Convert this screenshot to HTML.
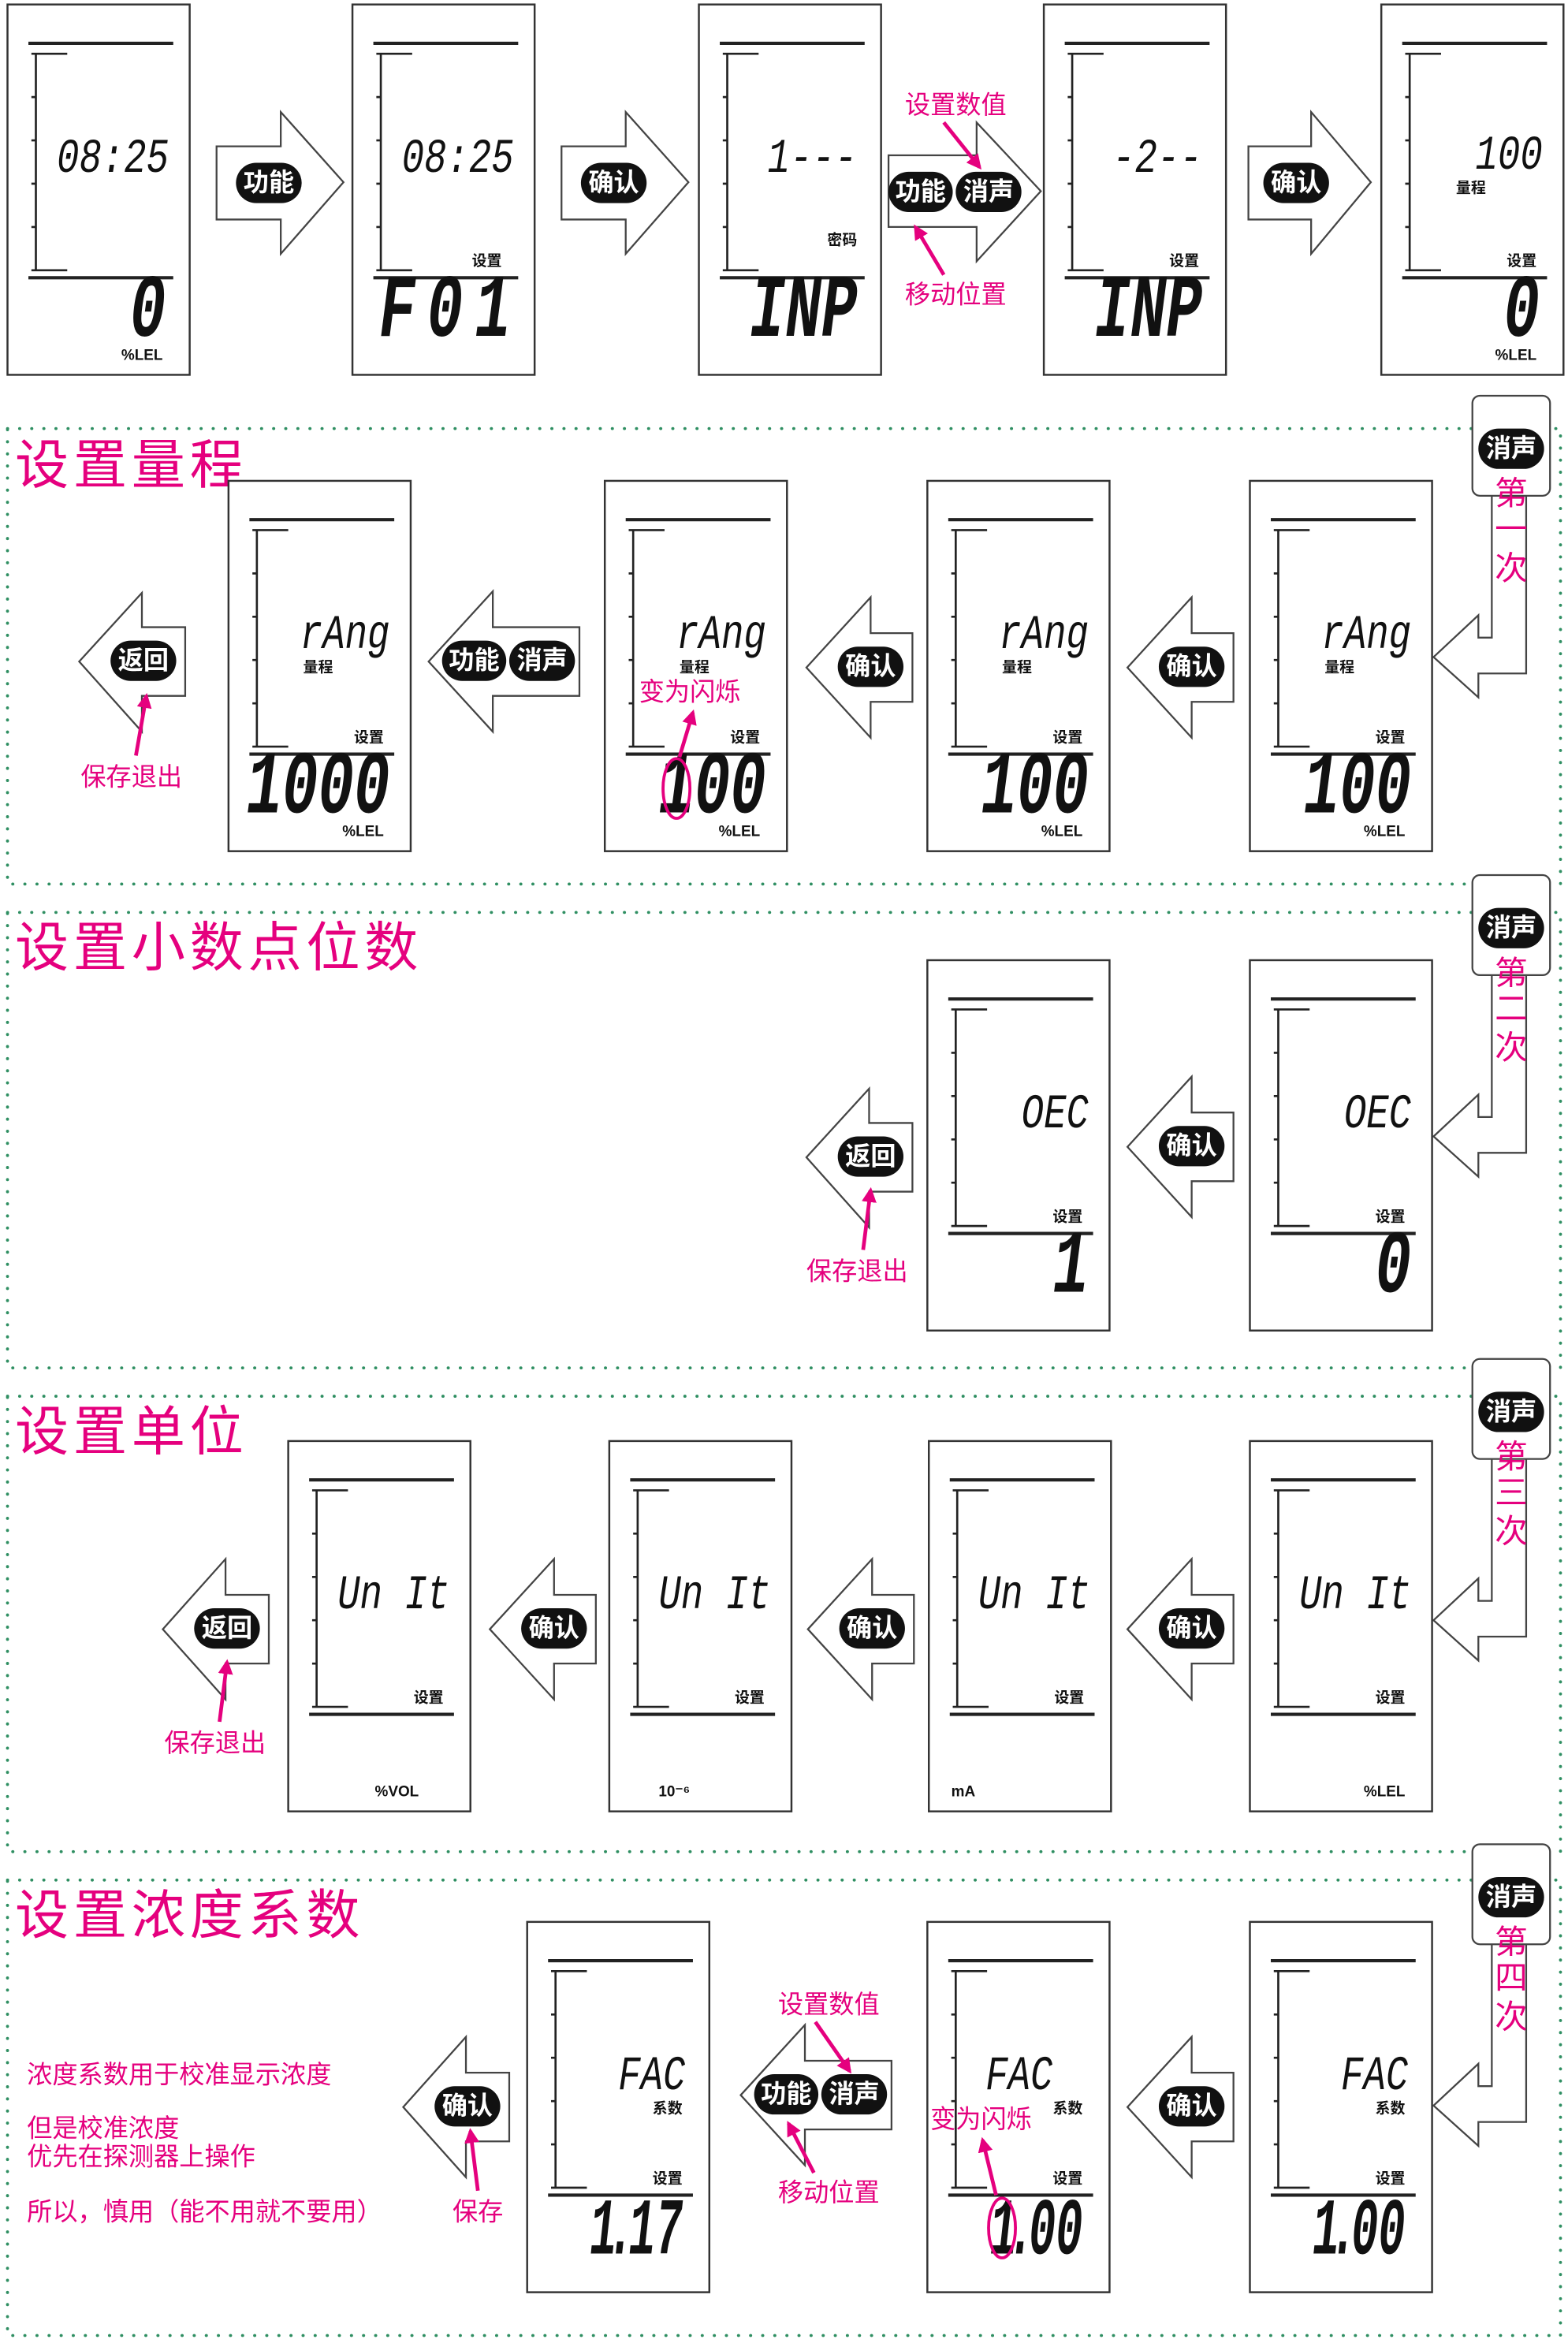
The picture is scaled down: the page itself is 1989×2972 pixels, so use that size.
<!DOCTYPE html>
<html><head><meta charset="utf-8"><style>
html,body{margin:0;padding:0;background:#fff}
svg{display:block}
.m{font-family:"Liberation Mono",monospace;font-style:italic;font-size:25px;fill:#111}
.b{font-family:"Liberation Mono",monospace;font-style:italic;font-size:40px;font-weight:bold;fill:#111}
.b2{font-family:"Liberation Mono",monospace;font-style:italic;font-size:30px;font-weight:bold;fill:#111}
.s{font-family:"Liberation Sans","Noto Sans CJK SC",sans-serif;font-size:10px;font-weight:bold;fill:#111}
.w{font-family:"Liberation Sans","Noto Sans CJK SC",sans-serif;font-size:17px;font-weight:bold;fill:#fff}
.p{font-family:"Liberation Sans","Noto Sans CJK SC",sans-serif;font-size:17px;fill:#e5007e}
.t{font-family:"Liberation Sans","Noto Sans CJK SC",sans-serif;font-size:36px;fill:#e5007e;letter-spacing:3px}
.k{font-family:"Liberation Sans","Noto Sans CJK SC",sans-serif;font-size:22px;fill:#e5007e}
.ar{fill:#fff;stroke:#444;stroke-width:1.2}
.pk{stroke:#e5007e;stroke-width:2.5;fill:none}
.dot{fill:none;stroke:#2f8f62;stroke-width:2;stroke-dasharray:0.1 8;stroke-linecap:round}
</style></head><body>
<svg width="1989" height="2972" viewBox="0 0 1050 1569" xmlns="http://www.w3.org/2000/svg">
<defs>
<g id="fr"><rect x="0" y="0" width="122" height="248" fill="#fff" stroke="#333" stroke-width="1.3"/><path d="M14 26H111M14 183H111" stroke="#222" stroke-width="2.2"/><path d="M19 33V178M16 33H40M16 178H40M16 62H19M16 91H19M16 120H19M16 149H19" stroke="#222" stroke-width="1.4" fill="none"/></g>
<marker id="ah" viewBox="0 0 10 10" refX="8" refY="5" markerWidth="4" markerHeight="4" orient="auto"><path d="M0 0L10 5L0 10z" fill="#e5007e"/></marker>
</defs>

<rect class="dot" x="5" y="287" width="1040" height="305"/>
<rect class="dot" x="5" y="611" width="1040" height="305"/>
<rect class="dot" x="5" y="935" width="1040" height="305"/>
<rect class="dot" x="5" y="1259" width="1040" height="305"/>

<!-- TOP ROW -->
<g transform="translate(5,3)"><use href="#fr"/><text class="m" text-anchor="end" transform="translate(108,112) scale(1,1.3)">08:25</text><text class="b" text-anchor="end" transform="translate(106,222) scale(1,1.5)">0</text><text class="s" x="104" y="238" text-anchor="end">%LEL</text></g>
<g transform="translate(236,3)"><use href="#fr"/><text class="m" text-anchor="end" transform="translate(108,112) scale(1,1.3)">08:25</text><text class="s" x="100" y="175" text-anchor="end">设置</text><text class="b" text-anchor="end" letter-spacing="8" transform="translate(114,222) scale(1,1.5)">F01</text></g>
<g transform="translate(468,3)"><use href="#fr"/><text class="m" text-anchor="end" transform="translate(106,112) scale(1,1.3)">1---</text><text class="s" x="106" y="161" text-anchor="end">密码</text><text class="b" text-anchor="end" transform="translate(106,222) scale(1,1.5)">INP</text></g>
<g transform="translate(699,3)"><use href="#fr"/><text class="m" text-anchor="end" transform="translate(106,112) scale(1,1.3)">-2--</text><text class="s" x="104" y="175" text-anchor="end">设置</text><text class="b" text-anchor="end" transform="translate(106,222) scale(1,1.5)">INP</text></g>
<g transform="translate(925,3)"><use href="#fr"/><text class="m" text-anchor="end" transform="translate(108,110) scale(1,1.3)">100</text><text class="s" x="50" y="126">量程</text><text class="s" x="104" y="175" text-anchor="end">设置</text><text class="b" text-anchor="end" transform="translate(106,222) scale(1,1.5)">0</text><text class="s" x="104" y="238" text-anchor="end">%LEL</text></g>

<polygon class="ar" points="145,98 188,98 188,75 230,122 188,170 188,147 145,147"/>
<rect x="158" y="109" width="44" height="27" rx="13.5" fill="#111"/><text class="w" x="180" y="128" text-anchor="middle">功能</text>
<polygon class="ar" points="376,98 419,98 419,75 461,122 419,170 419,147 376,147"/>
<rect x="389" y="109" width="44" height="27" rx="13.5" fill="#111"/><text class="w" x="411" y="128" text-anchor="middle">确认</text>
<polygon class="ar" points="595,104 654,104 654,82 697,128 654,175 654,152 595,152"/>
<rect x="595" y="115" width="43" height="27" rx="13.5" fill="#111"/><text class="w" x="616.5" y="134" text-anchor="middle">功能</text>
<rect x="640" y="115" width="44" height="27" rx="13.5" fill="#111"/><text class="w" x="662" y="134" text-anchor="middle">消声</text>
<text class="p" x="606" y="76">设置数值</text><line class="pk" x1="632" y1="82" x2="656" y2="112" marker-end="url(#ah)"/>
<text class="p" x="606" y="203">移动位置</text><line class="pk" x1="632" y1="184" x2="613" y2="152" marker-end="url(#ah)"/>
<polygon class="ar" points="836,98 878,98 878,75 918,122 878,170 878,147 836,147"/>
<rect x="846" y="109" width="44" height="27" rx="13.5" fill="#111"/><text class="w" x="868" y="128" text-anchor="middle">确认</text>

<!-- entry boxes -->
<g id="eb1"><polygon class="ar" points="999,330 999,427 990,427 990,412 960,440 990,467 990,451 1022,451 1022,330"/><rect x="986" y="265" width="52" height="67" rx="5" fill="#fff" stroke="#444" stroke-width="1.2"/><rect x="990" y="287" width="44" height="27" rx="13.5" fill="#111"/><text class="w" x="1012" y="306" text-anchor="middle">消声</text></g>
<text class="k" x="1012" y="338" text-anchor="middle">第</text><text class="k" x="1012" y="362" text-anchor="middle">一</text><text class="k" x="1012" y="388" text-anchor="middle">次</text>
<use href="#eb1" y="321"/><text class="k" x="1012" y="659" text-anchor="middle">第</text><text class="k" x="1012" y="683" text-anchor="middle">二</text><text class="k" x="1012" y="709" text-anchor="middle">次</text>
<use href="#eb1" y="645"/><text class="k" x="1012" y="983" text-anchor="middle">第</text><text class="k" x="1012" y="1007" text-anchor="middle">三</text><text class="k" x="1012" y="1033" text-anchor="middle">次</text>
<use href="#eb1" y="970"/><text class="k" x="1012" y="1308" text-anchor="middle">第</text><text class="k" x="1012" y="1332" text-anchor="middle">四</text><text class="k" x="1012" y="1358" text-anchor="middle">次</text>

<!-- SECTION 1 -->
<text class="t" x="10" y="324">设置量程</text>
<g transform="translate(153,322)"><use href="#fr"/><text class="m" text-anchor="end" transform="translate(108,112) scale(1,1.3)">rAng</text><text class="s" x="50" y="128">量程</text><text class="s" x="104" y="175" text-anchor="end">设置</text><text class="b" text-anchor="end" transform="translate(108,222) scale(1,1.5)">1000</text><text class="s" x="104" y="238" text-anchor="end">%LEL</text></g>
<g transform="translate(405,322)"><use href="#fr"/><text class="m" text-anchor="end" transform="translate(108,112) scale(1,1.3)">rAng</text><text class="s" x="50" y="128">量程</text><text class="s" x="104" y="175" text-anchor="end">设置</text><text class="b" text-anchor="end" transform="translate(108,222) scale(1,1.5)">100</text><text class="s" x="104" y="238" text-anchor="end">%LEL</text></g>
<g transform="translate(621,322)"><use href="#fr"/><text class="m" text-anchor="end" transform="translate(108,112) scale(1,1.3)">rAng</text><text class="s" x="50" y="128">量程</text><text class="s" x="104" y="175" text-anchor="end">设置</text><text class="b" text-anchor="end" transform="translate(108,222) scale(1,1.5)">100</text><text class="s" x="104" y="238" text-anchor="end">%LEL</text></g>
<g transform="translate(837,322)"><use href="#fr"/><text class="m" text-anchor="end" transform="translate(108,112) scale(1,1.3)">rAng</text><text class="s" x="50" y="128">量程</text><text class="s" x="104" y="175" text-anchor="end">设置</text><text class="b" text-anchor="end" transform="translate(108,222) scale(1,1.5)">100</text><text class="s" x="104" y="238" text-anchor="end">%LEL</text></g>
<ellipse cx="453" cy="528" rx="9" ry="20" fill="none" stroke="#e5007e" stroke-width="2"/>
<text class="p" x="428" y="469">变为闪烁</text><line class="pk" x1="455" y1="507" x2="464" y2="477" marker-end="url(#ah)"/>

<polygon class="ar" points="755,447 798,400 798,424 826,424 826,470 798,470 798,494"/>
<rect x="776" y="433" width="44" height="27" rx="13.5" fill="#111"/><text class="w" x="798" y="452" text-anchor="middle">确认</text>
<polygon class="ar" points="540,447 583,400 583,424 611,424 611,470 583,470 583,494"/>
<rect x="561" y="433" width="44" height="27" rx="13.5" fill="#111"/><text class="w" x="583" y="452" text-anchor="middle">确认</text>
<polygon class="ar" points="287,443 330,396 330,420 388,420 388,466 330,466 330,490"/>
<rect x="296" y="429" width="43" height="27" rx="13.5" fill="#111"/><text class="w" x="317.5" y="448" text-anchor="middle">功能</text>
<rect x="341" y="429" width="44" height="27" rx="13.5" fill="#111"/><text class="w" x="363" y="448" text-anchor="middle">消声</text>
<polygon class="ar" points="53,443 95,397 95,420 124,420 124,466 95,466 95,490"/>
<rect x="74" y="429" width="44" height="27" rx="13.5" fill="#111"/><text class="w" x="96" y="448" text-anchor="middle">返回</text>
<text class="p" x="54" y="526">保存退出</text><line class="pk" x1="91" y1="506" x2="98" y2="466" marker-end="url(#ah)"/>

<!-- SECTION 2 -->
<text class="t" x="10" y="647">设置小数点位数</text>
<g transform="translate(621,643)"><use href="#fr"/><text class="m" text-anchor="end" transform="translate(108,112) scale(1,1.3)">OEC</text><text class="s" x="104" y="175" text-anchor="end">设置</text><text class="b" text-anchor="end" transform="translate(108,222) scale(1,1.5)">1</text></g>
<g transform="translate(837,643)"><use href="#fr"/><text class="m" text-anchor="end" transform="translate(108,112) scale(1,1.3)">OEC</text><text class="s" x="104" y="175" text-anchor="end">设置</text><text class="b" text-anchor="end" transform="translate(108,222) scale(1,1.5)">0</text></g>
<polygon class="ar" points="755,768 798,721 798,745 826,745 826,791 798,791 798,815"/>
<rect x="776" y="754" width="44" height="27" rx="13.5" fill="#111"/><text class="w" x="798" y="773" text-anchor="middle">确认</text>
<polygon class="ar" points="540,775 582,729 582,752 611,752 611,798 582,798 582,822"/>
<rect x="561" y="761" width="44" height="27" rx="13.5" fill="#111"/><text class="w" x="583" y="780" text-anchor="middle">返回</text>
<text class="p" x="540" y="857">保存退出</text><line class="pk" x1="578" y1="837" x2="583" y2="797" marker-end="url(#ah)"/>

<!-- SECTION 3 -->
<text class="t" x="10" y="971">设置单位</text>
<g transform="translate(193,965)"><use href="#fr"/><text class="m" text-anchor="end" transform="translate(108,112) scale(1,1.3)">Un It</text><text class="s" x="104" y="175" text-anchor="end">设置</text><text class="s" x="58" y="238">%VOL</text></g>
<g transform="translate(408,965)"><use href="#fr"/><text class="m" text-anchor="end" transform="translate(108,112) scale(1,1.3)">Un It</text><text class="s" x="104" y="175" text-anchor="end">设置</text><text class="s" x="33" y="238">10⁻⁶</text></g>
<g transform="translate(622,965)"><use href="#fr"/><text class="m" text-anchor="end" transform="translate(108,112) scale(1,1.3)">Un It</text><text class="s" x="104" y="175" text-anchor="end">设置</text><text class="s" x="15" y="238">mA</text></g>
<g transform="translate(837,965)"><use href="#fr"/><text class="m" text-anchor="end" transform="translate(108,112) scale(1,1.3)">Un It</text><text class="s" x="104" y="175" text-anchor="end">设置</text><text class="s" x="104" y="238" text-anchor="end">%LEL</text></g>
<polygon class="ar" points="755,1091 798,1044 798,1068 826,1068 826,1114 798,1114 798,1138"/>
<rect x="776" y="1077" width="44" height="27" rx="13.5" fill="#111"/><text class="w" x="798" y="1096" text-anchor="middle">确认</text>
<polygon class="ar" points="541,1091 584,1044 584,1068 612,1068 612,1114 584,1114 584,1138"/>
<rect x="562" y="1077" width="44" height="27" rx="13.5" fill="#111"/><text class="w" x="584" y="1096" text-anchor="middle">确认</text>
<polygon class="ar" points="328,1091 371,1044 371,1068 399,1068 399,1114 371,1114 371,1138"/>
<rect x="349" y="1077" width="44" height="27" rx="13.5" fill="#111"/><text class="w" x="371" y="1096" text-anchor="middle">确认</text>
<polygon class="ar" points="109,1091 151,1044 151,1068 180,1068 180,1114 151,1114 151,1138"/>
<rect x="130" y="1077" width="44" height="27" rx="13.5" fill="#111"/><text class="w" x="152" y="1096" text-anchor="middle">返回</text>
<text class="p" x="110" y="1173">保存退出</text><line class="pk" x1="147" y1="1153" x2="152" y2="1113" marker-end="url(#ah)"/>

<!-- SECTION 4 -->
<text class="t" x="10" y="1295">设置浓度系数</text>
<g transform="translate(353,1287)"><use href="#fr"/><text class="m" text-anchor="end" transform="translate(106,112) scale(1,1.3)">FAC</text><text class="s" x="84" y="128">系数</text><text class="s" x="104" y="175" text-anchor="end">设置</text><text class="b2" transform="translate(42,222) scale(1,1.8)">1<tspan dx="-6">.</tspan><tspan dx="-4">17</tspan></text></g>
<g transform="translate(621,1287)"><use href="#fr"/><text class="m" text-anchor="end" transform="translate(84,112) scale(1,1.3)">FAC</text><text class="s" x="84" y="128">系数</text><text class="s" x="104" y="175" text-anchor="end">设置</text><text class="b2" transform="translate(42,222) scale(1,1.8)">1<tspan dx="-6">.</tspan><tspan dx="-4">00</tspan></text></g>
<g transform="translate(837,1287)"><use href="#fr"/><text class="m" text-anchor="end" transform="translate(106,112) scale(1,1.3)">FAC</text><text class="s" x="84" y="128">系数</text><text class="s" x="104" y="175" text-anchor="end">设置</text><text class="b2" transform="translate(42,222) scale(1,1.8)">1<tspan dx="-6">.</tspan><tspan dx="-4">00</tspan></text></g>
<ellipse cx="671" cy="1492" rx="9" ry="20" fill="none" stroke="#e5007e" stroke-width="2"/>
<text class="p" x="623" y="1425">变为闪烁</text><line class="pk" x1="667" y1="1470" x2="658" y2="1433" marker-end="url(#ah)"/>
<polygon class="ar" points="755,1411 798,1364 798,1388 826,1388 826,1434 798,1434 798,1458"/>
<rect x="776" y="1397" width="44" height="27" rx="13.5" fill="#111"/><text class="w" x="798" y="1416" text-anchor="middle">确认</text>
<polygon class="ar" points="496,1403 539,1356 539,1380 597,1380 597,1426 539,1426 539,1450"/>
<rect x="505" y="1389" width="43" height="27" rx="13.5" fill="#111"/><text class="w" x="526.5" y="1408" text-anchor="middle">功能</text>
<rect x="550" y="1389" width="44" height="27" rx="13.5" fill="#111"/><text class="w" x="572" y="1408" text-anchor="middle">消声</text>
<text class="p" x="521" y="1348">设置数值</text><line class="pk" x1="546" y1="1354" x2="569" y2="1387" marker-end="url(#ah)"/>
<text class="p" x="521" y="1474">移动位置</text><line class="pk" x1="545" y1="1455" x2="528" y2="1422" marker-end="url(#ah)"/>
<polygon class="ar" points="270,1411 312,1364 312,1388 341,1388 341,1434 312,1434 312,1458"/>
<rect x="291" y="1397" width="44" height="27" rx="13.5" fill="#111"/><text class="w" x="313" y="1416" text-anchor="middle">确认</text>
<text class="p" x="303" y="1487">保存</text><line class="pk" x1="320" y1="1467" x2="315" y2="1427" marker-end="url(#ah)"/>
<text class="p" x="18" y="1395">浓度系数用于校准显示浓度</text>
<text class="p" x="18" y="1431">但是校准浓度</text>
<text class="p" x="18" y="1450">优先在探测器上操作</text>
<text class="p" x="18" y="1487">所以，慎用（能不用就不要用）</text>
</svg>
</body></html>
